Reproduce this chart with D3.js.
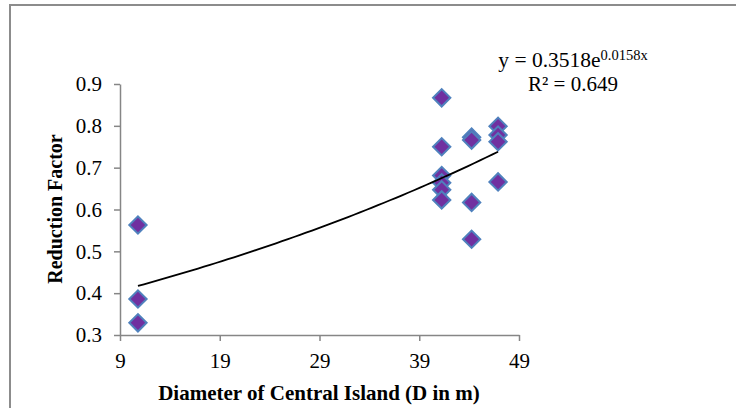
<!DOCTYPE html>
<html lang="en">
<head>
    <meta charset="UTF-8">
    <title>Reduction Factor vs Diameter</title>
    <script src="https://cdn.jsdelivr.net/npm/d3@7/dist/d3.min.js"></script>
    <style>
        body { margin: 0; background: #fff; }
        text { font-family: "Liberation Serif", "Times New Roman", serif; fill: #000; }
    </style>
</head>
<body>
    <script>
        // data
        let diameter = [10.8, 10.8, 10.8,
            41.25, 41.25, 41.25, 41.25, 41.25, 41.25,
            44.25, 44.25, 44.25, 44.25,
            46.9, 46.9, 46.9, 46.9];
        let factor = [0.563, 0.386, 0.329,
            0.867, 0.750, 0.681, 0.664, 0.647, 0.623,
            0.773, 0.766, 0.617, 0.529,
            0.799, 0.778, 0.762, 0.666];
        let xTicks = [9, 19, 29, 39, 49];
        let yTicks = [0.3, 0.4, 0.5, 0.6, 0.7, 0.8, 0.9];
        let fitA = 0.3518, fitB = 0.0158, fitR2 = 0.649;

        let width = 736;
        let height = 408;

        let svg = d3.select("body").append("svg")
            .attr("width", width)
            .attr("height", height);

        // chart border (runs off the right and bottom edge)
        svg.append("rect")
            .attr("x", 10).attr("y", 5)
            .attr("width", 800).attr("height", 500)
            .attr("fill", "none")
            .attr("stroke", "#8c8c8c")
            .attr("stroke-width", 2);

        let x = d3.scaleLinear().domain([9, 49]).range([120, 519]);
        let y = d3.scaleLinear().domain([0.3, 0.9]).range([335, 84]);

        let xAxis = d3.axisBottom(x)
            .tickValues(xTicks)
            .tickSizeInner(6)
            .tickSizeOuter(0)
            .tickPadding(12);
        let yAxis = d3.axisLeft(y)
            .tickValues(yTicks)
            .tickFormat(d3.format(".1f"))
            .tickSizeInner(6)
            .tickSizeOuter(0)
            .tickPadding(12);

        svg.append("g")
            .attr("transform", `translate(0, ${y(0.3)})`)
            .call(xAxis);
        svg.append("g")
            .attr("transform", `translate(${x(9)}, 0)`)
            .call(yAxis);

        svg.selectAll(".domain, .tick line")
            .attr("stroke", "#868686")
            .attr("stroke-width", 1.5);
        svg.selectAll(".tick text")
            .attr("font-family", "Liberation Serif")
            .attr("font-size", "21px")
            .attr("fill", "#000");

        // markers
        let diamond = d3.symbol().type(d3.symbolSquare).size(150);
        svg.append("g").selectAll("path")
            .data(diameter)
            .join("path")
            .attr("d", diamond)
            .attr("transform", (d, i) => `translate(${x(d)}, ${y(factor[i])}) rotate(45)`)
            .attr("fill", "#7030A0")
            .attr("stroke", "#4F81BD")
            .attr("stroke-width", 2);

        // exponential trendline
        let x0 = d3.min(diameter), x1 = d3.max(diameter);
        let fit = d3.range(0, 61).map(i => x0 + (x1 - x0) * i / 60);
        let line = d3.line()
            .x(d => x(d))
            .y(d => y(fitA * Math.exp(fitB * d)));
        svg.append("path")
            .attr("d", line(fit))
            .attr("fill", "none")
            .attr("stroke", "#000")
            .attr("stroke-width", 1.8);

        // equation
        let eq = svg.append("text")
            .attr("x", 573).attr("y", 67)
            .attr("text-anchor", "middle")
            .attr("font-size", "21.5px");
        eq.append("tspan").text(`y = ${fitA}e`);
        eq.append("tspan")
            .attr("font-size", "14.5px")
            .attr("dy", -7)
            .text(`${fitB}x`);
        svg.append("text")
            .attr("x", 573).attr("y", 91)
            .attr("text-anchor", "middle")
            .attr("font-size", "21px")
            .text(`R² = ${fitR2}`);

        // axis titles
        svg.append("text")
            .attr("x", 319).attr("y", 400)
            .attr("text-anchor", "middle")
            .attr("font-size", "21px")
            .attr("font-weight", "bold")
            .text("Diameter of Central Island (D in m)");
        svg.append("text")
            .attr("transform", "translate(62, 209) rotate(-90)")
            .attr("text-anchor", "middle")
            .attr("font-size", "20px")
            .attr("font-weight", "bold")
            .text("Reduction Factor");
    </script>
</body>
</html>
